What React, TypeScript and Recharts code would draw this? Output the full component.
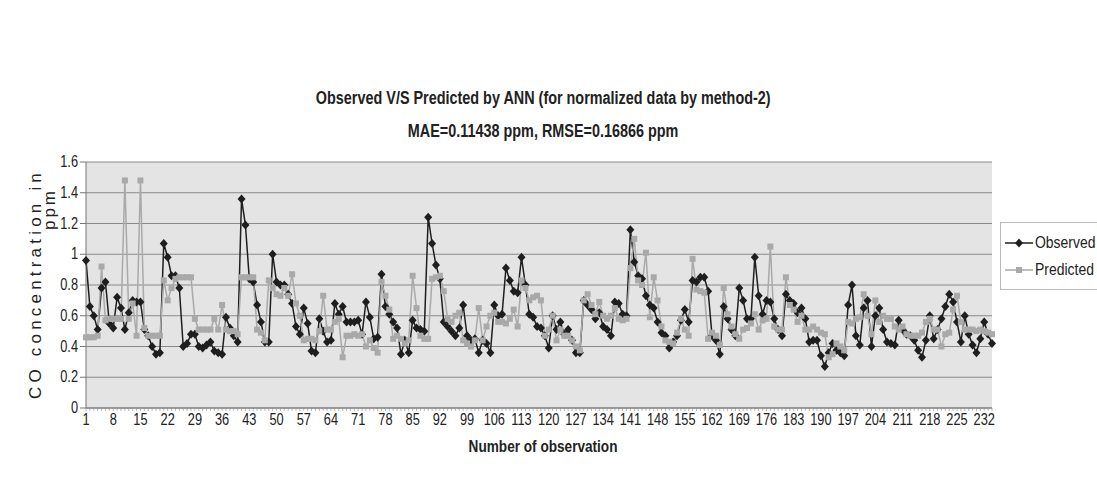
import React from 'react';
import { LineChart, Line, XAxis, YAxis, CartesianGrid } from 'recharts';

// values, observation 1..234
const observed = [
  0.96, 0.66, 0.6, 0.51, 0.78, 0.82, 0.55, 0.52, 0.72, 0.65,
  0.51, 0.62, 0.7, 0.69, 0.69, 0.51, 0.47, 0.4, 0.35, 0.36,
  1.07, 0.98, 0.86, 0.86, 0.78, 0.4, 0.42, 0.48, 0.48, 0.4,
  0.39, 0.41, 0.43, 0.37, 0.36, 0.35, 0.59, 0.52, 0.47, 0.43,
  1.36, 1.19, 0.84, 0.82, 0.67, 0.56, 0.43, 0.43, 1.0, 0.82,
  0.8, 0.8, 0.74, 0.68, 0.53, 0.48, 0.65, 0.55, 0.37, 0.36,
  0.58, 0.5, 0.43, 0.44, 0.68, 0.61, 0.66, 0.56, 0.56, 0.56,
  0.57, 0.48, 0.69, 0.59, 0.45, 0.46, 0.87, 0.66, 0.61, 0.56,
  0.52, 0.35, 0.44, 0.36, 0.57, 0.52, 0.51, 0.5, 1.24, 1.07,
  0.93, 0.84, 0.56, 0.53, 0.5, 0.47, 0.52, 0.67, 0.47, 0.44,
  0.45, 0.36, 0.44, 0.42, 0.36, 0.67, 0.6, 0.61, 0.91, 0.83,
  0.76, 0.75, 0.98, 0.8, 0.61, 0.59, 0.53, 0.52, 0.47, 0.39,
  0.6, 0.51, 0.56, 0.48, 0.51, 0.44, 0.36, 0.36, 0.7, 0.67,
  0.64, 0.58, 0.62, 0.53, 0.51, 0.47, 0.69, 0.68, 0.61, 0.6,
  1.16, 0.95, 0.86, 0.84, 0.73, 0.67, 0.65, 0.56, 0.49, 0.47,
  0.39, 0.43, 0.47, 0.57, 0.64, 0.56, 0.83, 0.82, 0.85, 0.85,
  0.76, 0.47, 0.44, 0.35, 0.66, 0.58, 0.51, 0.47, 0.78, 0.7,
  0.58, 0.58, 0.98, 0.73, 0.61, 0.7, 0.69, 0.58, 0.51, 0.47,
  0.74, 0.7, 0.68, 0.62, 0.65, 0.58, 0.43, 0.44, 0.44, 0.34,
  0.27, 0.36, 0.42, 0.375, 0.36, 0.34, 0.67, 0.8, 0.47, 0.41,
  0.65, 0.7, 0.4, 0.6, 0.65, 0.51, 0.43, 0.42, 0.41, 0.57,
  0.51, 0.48, 0.47, 0.44, 0.375, 0.33, 0.44, 0.6, 0.45, 0.51,
  0.58, 0.66, 0.74, 0.69, 0.56, 0.43, 0.6, 0.48, 0.41, 0.36,
  0.45, 0.56, 0.48, 0.42,
];

const predicted = [
  0.46, 0.46, 0.46, 0.47, 0.92, 0.57, 0.58, 0.58, 0.58, 0.58,
  1.48, 0.58, 0.68, 0.47, 1.48, 0.52, 0.47, 0.47, 0.47, 0.47,
  0.83, 0.7, 0.78, 0.84, 0.85, 0.85, 0.85, 0.85, 0.58, 0.51,
  0.51, 0.51, 0.51, 0.58, 0.51, 0.67, 0.51, 0.5, 0.5, 0.48,
  0.85, 0.85, 0.85, 0.85, 0.51, 0.49, 0.44, 0.83, 0.78, 0.74,
  0.73, 0.78, 0.73, 0.87, 0.68, 0.6, 0.44, 0.45, 0.45, 0.44,
  0.5, 0.73, 0.51, 0.51, 0.56, 0.58, 0.33, 0.47, 0.47, 0.48,
  0.47, 0.48, 0.4, 0.44, 0.39, 0.36, 0.82, 0.73, 0.64, 0.45,
  0.47, 0.45, 0.42, 0.44, 0.86, 0.65, 0.47, 0.45, 0.45, 0.84,
  0.85, 0.86, 0.76, 0.58, 0.56, 0.6, 0.62, 0.44, 0.42, 0.4,
  0.44, 0.65, 0.44, 0.53, 0.6, 0.62, 0.56, 0.56, 0.55, 0.58,
  0.64, 0.53, 0.83, 0.78, 0.7, 0.72, 0.73, 0.7, 0.47, 0.51,
  0.6, 0.44, 0.51, 0.47, 0.47, 0.44, 0.4, 0.375, 0.7, 0.74,
  0.67, 0.61, 0.69, 0.6, 0.58, 0.6, 0.65, 0.58, 0.57, 0.58,
  0.91, 1.1, 0.83, 0.8, 1.01, 0.59, 0.85, 0.7, 0.53, 0.44,
  0.43, 0.42, 0.49, 0.58, 0.51, 0.47, 0.97, 0.77, 0.76, 0.75,
  0.45, 0.49, 0.47, 0.41, 0.78, 0.61, 0.53, 0.48, 0.45, 0.51,
  0.52, 0.55, 0.61, 0.51, 0.57, 0.58, 1.05, 0.53, 0.51, 0.51,
  0.85, 0.67, 0.64, 0.56, 0.6, 0.51, 0.51, 0.53, 0.51, 0.49,
  0.48, 0.33, 0.35, 0.42, 0.4, 0.375, 0.56, 0.55, 0.58, 0.59,
  0.74, 0.6, 0.48, 0.7, 0.56, 0.6, 0.58, 0.58, 0.53, 0.51,
  0.53, 0.48, 0.47, 0.47, 0.47, 0.49, 0.56, 0.58, 0.51, 0.51,
  0.4, 0.48, 0.49, 0.64, 0.73, 0.56, 0.51, 0.51, 0.51, 0.5,
  0.51, 0.5, 0.49, 0.48,
];

const observations = observed.map((_, i) => i + 1);
const yTicks = [0, 0.2, 0.4, 0.6, 0.8, 1, 1.2, 1.4, 1.6];

const data = observations.map((n, i) => ({
  n,
  observed: observed[i],
  predicted: predicted[i],
}));

const FONT = "'Liberation Sans', Arial, sans-serif";
const NARROW = 0.8; // the original uses a narrow face, squeeze Liberation Sans

const Narrow = ({ children, s = NARROW }: { children: React.ReactNode; s?: number }) => (
  <span style={{ display: 'inline-block', transform: `scaleX(${s})`, whiteSpace: 'nowrap' }}>
    {children}
  </span>
);

const Diamond = (props: any) => {
  const { cx, cy } = props;
  if (cx == null || cy == null) return null;
  return (
    <polygon
      points={`${cx},${cy - 4.5} ${cx + 4},${cy} ${cx},${cy + 4.5} ${cx - 4},${cy}`}
      fill="#1e1e1e"
    />
  );
};

const Square = (props: any) => {
  const { cx, cy } = props;
  if (cx == null || cy == null) return null;
  return <rect x={cx - 3} y={cy - 3} width={6} height={6} fill="#a9a9a9" />;
};

// tick mark for every observation, label every 7th
const XTick = (props: any) => {
  const { x, y, payload, index } = props;
  return (
    <g>
      <line x1={x} y1={y - 8} x2={x} y2={y - 5} stroke="#888" strokeWidth={0.6} />
      {index % 7 === 0 && (
        <text
          transform={`translate(${x},${y + 9}) scale(${NARROW},1)`}
          textAnchor="middle"
          fontSize={16}
          fill="#222"
          fontFamily={FONT}
        >
          {payload.value}
        </text>
      )}
    </g>
  );
};

const YTick = (props: any) => {
  const { x, y, payload } = props;
  return (
    <text
      transform={`translate(${x},${y + 5}) scale(${NARROW},1)`}
      textAnchor="end"
      fontSize={16}
      fill="#222"
      fontFamily={FONT}
    >
      {String(Number(Number(payload.value).toFixed(1)))}
    </text>
  );
};

const App: React.FC = () => {
  return (
    <div
      style={{
        position: 'fixed',
        left: 0,
        top: 0,
        width: 1097,
        height: 479,
        background: '#fff',
        fontFamily: FONT,
        color: '#222',
      }}
    >
      <div
        style={{
          position: 'absolute',
          left: 0,
          width: 1087,
          top: 82,
          textAlign: 'center',
          fontSize: 18,
          fontWeight: 'bold',
          lineHeight: '33px',
        }}
      >
        <div>
          <Narrow>Observed V/S Predicted by ANN (for normalized data by method-2)</Narrow>
        </div>
        <div>
          <Narrow>MAE=0.11438 ppm, RMSE=0.16866 ppm</Narrow>
        </div>
      </div>

      <div
        style={{
          position: 'absolute',
          left: 36,
          top: 284,
          transform: 'translate(-50%, -50%) rotate(-90deg)',
          whiteSpace: 'nowrap',
          fontSize: 17,
          letterSpacing: 4.2,
        }}
      >
        CO concentration in
      </div>
      <div
        style={{
          position: 'absolute',
          left: 50,
          top: 209,
          transform: 'translate(-50%, -50%) rotate(-90deg)',
          whiteSpace: 'nowrap',
          fontSize: 17,
          letterSpacing: 3,
        }}
      >
        ppm
      </div>

      <LineChart
        width={1097}
        height={479}
        data={data}
        margin={{ top: 162, right: 105, bottom: 41, left: 0 }}
      >
        <CartesianGrid vertical={false} stroke="#8a8a8a" fill="#e4e4e4" fillOpacity={1} />
        <XAxis
          dataKey="n"
          interval={0}
          height={30}
          tick={<XTick />}
          tickLine={false}
          axisLine={{ stroke: '#777' }}
        />
        <YAxis
          width={86}
          domain={[0, 1.6]}
          ticks={yTicks}
          tick={<YTick />}
          tickLine={{ stroke: '#777' }}
          axisLine={{ stroke: '#777' }}
        />
        <Line
          dataKey="observed"
          name="Observed"
          stroke="#1e1e1e"
          strokeWidth={1.5}
          dot={<Diamond />}
          activeDot={false}
          isAnimationActive={false}
        />
        <Line
          dataKey="predicted"
          name="Predicted"
          stroke="#a9a9a9"
          strokeWidth={1.5}
          dot={<Square />}
          activeDot={false}
          isAnimationActive={false}
        />
      </LineChart>

      <div
        style={{
          position: 'absolute',
          left: 0,
          width: 1087,
          top: 437,
          textAlign: 'center',
          fontSize: 17,
          fontWeight: 'bold',
        }}
      >
        <Narrow>Number of observation</Narrow>
      </div>

      <div
        style={{
          position: 'absolute',
          left: 1000,
          top: 222,
          width: 110,
          height: 66,
          border: '1px solid #bbb',
          fontSize: 17,
        }}
      >
        <div style={{ position: 'absolute', left: 4, top: 10, display: 'flex', alignItems: 'center' }}>
          <svg width={28} height={12}>
            <line x1={0} y1={6} x2={28} y2={6} stroke="#1e1e1e" strokeWidth={1.5} />
            <polygon points="14,1.5 18,6 14,10.5 10,6" fill="#1e1e1e" />
          </svg>
          <span style={{ marginLeft: 2, display: 'inline-block', transform: 'scaleX(0.82)', transformOrigin: 'left center' }}>
            Observed
          </span>
        </div>
        <div style={{ position: 'absolute', left: 4, top: 37, display: 'flex', alignItems: 'center' }}>
          <svg width={28} height={12}>
            <line x1={0} y1={6} x2={28} y2={6} stroke="#a9a9a9" strokeWidth={1.5} />
            <rect x={11} y={3} width={6} height={6} fill="#a9a9a9" />
          </svg>
          <span style={{ marginLeft: 2, display: 'inline-block', transform: 'scaleX(0.82)', transformOrigin: 'left center' }}>
            Predicted
          </span>
        </div>
      </div>
    </div>
  );
};

export default App;
